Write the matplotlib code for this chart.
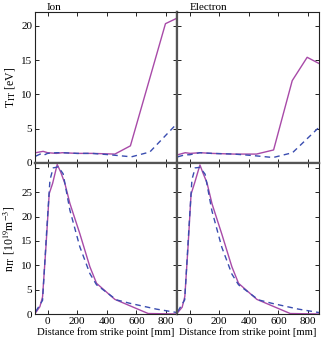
import matplotlib
matplotlib.use("Agg")
import matplotlib.pyplot as plt

# --------------------------------
# DATA
# --------------------------------

# ion temperature [eV]
ion_T_x_solid = [-80, -30, 0, 60, 100, 200, 300, 455, 560, 797, 875]
ion_T_solid = [1.5, 1.7, 1.5, 1.4, 1.5, 1.4, 1.4, 1.3, 2.5, 20.3, 21.1]
ion_T_x_dash = [-80, -50, -30, 0, 60, 100, 200, 300, 420, 567, 691, 875]
ion_T_dash = [1.0, 1.3, 1.1, 1.4, 1.5, 1.5, 1.4, 1.4, 1.2, 0.9, 1.6, 5.75]

# electron temperature [eV]
ele_T_x_solid = [-80, -29, 4, 72, 150, 300, 452, 568, 694, 795, 875]
ele_T_solid = [1.2, 1.5, 1.4, 1.5, 1.4, 1.3, 1.3, 1.9, 12.0, 15.4, 14.5]
ele_T_x_dash = [-80, -30, 0, 70, 150, 300, 420, 565, 696, 875]
ele_T_dash = [0.9, 1.2, 1.2, 1.5, 1.4, 1.3, 1.1, 0.8, 1.5, 5.2]

# ion density [1e19 m^-3]
ion_n_x_solid = [-80, -52, -34, -11, 11, 34, 65, 88, 117, 151, 218, 286, 331, 421, 455, 680, 875]
ion_n_solid = [0.3, 1.5, 3.5, 13.8, 24.7, 26.8, 30.7, 29.2, 26.8, 22.7, 16.5, 9.7, 6.3, 3.9, 3.0, 0.1, 0.0]
ion_n_x_dash = [-80, -34, -7, 16, 38, 72, 105, 151, 218, 286, 331, 466, 556, 736, 875]
ion_n_dash = [0.5, 2.8, 16.6, 27.5, 30.0, 30.2, 28.8, 21.3, 13.8, 8.3, 6.0, 2.9, 2.2, 1.0, 0.3]

# electron density [1e19 m^-3]
ele_n_x_solid = [-80, -50, -32, -10, 10, 35, 70, 90, 118, 152, 218, 286, 331, 421, 455, 680, 875]
ele_n_solid = [0.3, 1.4, 3.6, 14.0, 24.6, 27.0, 30.6, 29.0, 26.9, 22.6, 16.4, 9.7, 6.3, 3.9, 3.0, 0.1, 0.0]
ele_n_x_dash = [-80, -33, -6, 16, 38, 70, 105, 151, 218, 286, 331, 466, 556, 736, 875]
ele_n_dash = [0.5, 2.9, 16.8, 27.6, 30.0, 30.1, 28.7, 21.2, 13.7, 8.2, 6.0, 2.9, 2.2, 1.0, 0.3]

x_ticks = [0, 200, 400, 600, 800]
T_ticks = [0, 5, 10, 15, 20]
n_ticks = [0, 5, 10, 15, 20, 25, 30]
n_tick_labels = ["0", "5", "10", "15", "20", "25", ""]

# --------------------------------
# STYLE
# --------------------------------

plt.rcParams["font.family"] = ["Liberation Serif", "DejaVu Serif"]
plt.rcParams["mathtext.fontset"] = "stix"
plt.rcParams["font.size"] = 8

solid_color = "#a84aa8"
dash_color = "#3a4db0"

fig = plt.figure(figsize=(3.21, 3.41), dpi=100)

W = 142 / 321
H = 151 / 341
ax_ti = fig.add_axes([35 / 321, 1 - 163 / 341, W, H])
ax_te = fig.add_axes([177 / 321, 1 - 163 / 341, W, H])
ax_ni = fig.add_axes([35 / 321, 1 - 314 / 341, W, H])
ax_ne = fig.add_axes([177 / 321, 1 - 314 / 341, W, H])


def style(ax, inner_sides):
    ax.set_xlim(-85, 875)
    ax.set_xticks(x_ticks)
    ax.tick_params(direction="in", length=3, width=0.6, top=True, right=True,
                   labelsize=8, pad=2)
    for side, sp in ax.spines.items():
        if side in inner_sides:
            sp.set_linewidth(1.6)
            sp.set_color("#555555")
        else:
            sp.set_linewidth(0.8)
            sp.set_color("#222222")


# --------------------------------
# TEMPERATURE PANELS
# --------------------------------

ax_ti.plot(ion_T_x_solid, ion_T_solid, color=solid_color, lw=1.0)
ax_ti.plot(ion_T_x_dash, ion_T_dash, color=dash_color, lw=1.0, ls=(0, (4, 3)))
ax_te.plot(ele_T_x_solid, ele_T_solid, color=solid_color, lw=1.0)
ax_te.plot(ele_T_x_dash, ele_T_dash, color=dash_color, lw=1.0, ls=(0, (4, 3)))

for ax in (ax_ti, ax_te):
    ax.set_ylim(0, 22)
    ax.set_yticks(T_ticks)
    ax.set_xticklabels([])

style(ax_ti, ["right", "bottom"])
style(ax_te, ["left", "bottom"])
ax_te.set_yticklabels([])

ax_ti.set_ylabel(r"T$_{\mathrm{IT}}$ [eV]", fontsize=8.5, labelpad=3)
ax_ti.text(0.08, 1.015, "Ion", transform=ax_ti.transAxes, fontsize=8,
           ha="left", va="baseline")
ax_te.text(0.09, 1.015, "Electron", transform=ax_te.transAxes, fontsize=8,
           ha="left", va="baseline")

# --------------------------------
# DENSITY PANELS
# --------------------------------

ax_ni.plot(ion_n_x_solid, ion_n_solid, color=solid_color, lw=1.0)
ax_ni.plot(ion_n_x_dash, ion_n_dash, color=dash_color, lw=1.0, ls=(0, (4, 3)))
ax_ne.plot(ele_n_x_solid, ele_n_solid, color=solid_color, lw=1.0)
ax_ne.plot(ele_n_x_dash, ele_n_dash, color=dash_color, lw=1.0, ls=(0, (4, 3)))

for ax in (ax_ni, ax_ne):
    ax.set_ylim(0, 31)
    ax.set_yticks(n_ticks)
    ax.set_yticklabels(n_tick_labels)
    ax.set_xlabel("Distance from strike point [mm]", fontsize=7.7, labelpad=1)

style(ax_ni, ["right", "top"])
style(ax_ne, ["left", "top"])
ax_ne.set_yticklabels([])

ax_ni.set_ylabel(r"n$_{\mathrm{IT}}$ [10$^{19}$m$^{-3}$]", fontsize=8.5, labelpad=3)

fig.savefig("out.png", dpi=100)
